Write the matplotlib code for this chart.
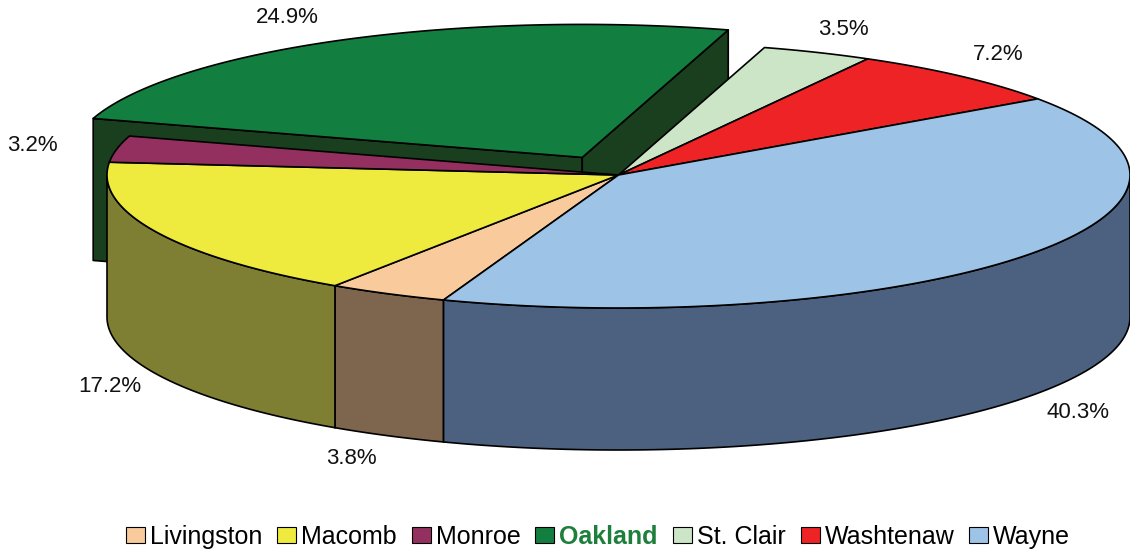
import numpy as np
import matplotlib
matplotlib.use("Agg")
import matplotlib.pyplot as plt
from matplotlib.patches import Polygon, Patch

plt.rcParams["font.family"] = ["Liberation Sans", "DejaVu Sans"]

# data
counties = ["Livingston", "Macomb", "Monroe", "Oakland", "St. Clair", "Washtenaw", "Wayne"]
shares = [3.8, 17.2, 3.2, 24.9, 3.5, 7.2, 40.3]
exploded = ["Oakland"]
labels = [f"{v:.1f}%" for v in shares]

# styles
top_colors = ["#F9CA9B", "#EEEA3E", "#93305F", "#127E3F", "#CCE5C6", "#EE2326", "#9DC3E6"]
side_colors = ["#7D654E", "#7F7F33", "#4A1830", "#1A3F1E", "#667360", "#771113", "#4C6180"]
label_nudge = [(-13, 11), (0, 7), (-34, -1), (-29, -11), (6, -11), (2, -12), (13, 6)]

# geometry of the 3d pie, in pixels
CX, CY = 618.5, 175
RX, RY = 511.5, 133
DEPTH = 142
START = 250
EXPLODE = 0.15
LABEL_R = 1.1
EDGE = dict(edgecolor="black", linewidth=1.2, joinstyle="round")


def arc(cx, cy, t1, t2, n=120):
    t = np.radians(np.linspace(t1, t2, n))
    return np.column_stack([cx + RX * np.cos(t), cy - RY * np.sin(t)])


def slice_geometry():
    total = sum(shares)
    out = []
    a = START
    for name, v in zip(counties, shares):
        span = 360 * v / total
        a_start, a_end = a, a - span
        mid = np.radians((a_start + a_end) / 2)
        cx, cy = CX, CY
        if name in exploded:
            cx += EXPLODE * RX * np.cos(mid)
            cy -= EXPLODE * RY * np.sin(mid)
        out.append((a_start, a_end, cx, cy))
        a = a_end
    return out


def draw_radial(ax, i, geo):
    a_start, a_end, cx, cy = geo
    down = np.array([0, DEPTH])
    c = np.array([cx, cy])
    # only the cut faces turned towards the viewer
    for ang, visible in ((a_start, np.cos(np.radians(a_start)) < 0),
                         (a_end, np.cos(np.radians(a_end)) > 0)):
        if not visible:
            continue
        p = arc(cx, cy, ang, ang, 1)[0]
        ax.add_patch(Polygon([c, p, p + down, c + down], facecolor=side_colors[i], **EDGE))


def draw_outer(ax, i, geo):
    a_start, a_end, cx, cy = geo
    down = np.array([0, DEPTH])
    # outer wall on the front half
    for k in (-360, 0, 360):
        lo, hi = max(a_end, 180 + k), min(a_start, 360 + k)
        if lo >= hi:
            continue
        upper = arc(cx, cy, hi, lo)
        lower = arc(cx, cy, lo, hi) + down
        ax.add_patch(Polygon(np.vstack([upper, lower]), facecolor=side_colors[i], **EDGE))


def draw_top(ax, i, geo):
    a_start, a_end, cx, cy = geo
    pts = np.vstack([[cx, cy], arc(cx, cy, a_start, a_end)])
    ax.add_patch(Polygon(pts, facecolor=top_colors[i], **EDGE))


def draw_group(ax, idx, geos):
    for i in idx:
        draw_radial(ax, i, geos[i])
    for i in idx:
        draw_outer(ax, i, geos[i])
    for i in idx:
        draw_top(ax, i, geos[i])


def main():
    fig = plt.figure(figsize=(11.3, 5.52), dpi=100)
    ax = fig.add_axes([0, 0, 1, 1])
    ax.set_xlim(0, 1130)
    ax.set_ylim(552, 0)
    ax.axis("off")

    geos = slice_geometry()
    back = [i for i, n in enumerate(counties) if n in exploded]
    front = [i for i, n in enumerate(counties) if n not in exploded]
    draw_group(ax, back, geos)
    draw_group(ax, front, geos)

    # percentage labels
    for i, (a_start, a_end, cx, cy) in enumerate(geos):
        m = np.radians((a_start + a_end) / 2)
        x = cx + RX * LABEL_R * np.cos(m)
        y = cy - RY * LABEL_R * np.sin(m)
        if np.sin(m) < 0:
            y += DEPTH
        dx, dy = label_nudge[i]
        ax.text(x + dx, y + dy, labels[i], ha="center", va="center",
                fontsize=16, color="#111111")

    handles = [Patch(facecolor=c, edgecolor="black", linewidth=0.8) for c in top_colors]
    leg = fig.legend(handles, counties, loc="center", ncol=7,
                     bbox_to_anchor=(598 / 1130, 1 - 537 / 552),
                     frameon=False, fontsize=18, handlelength=0.76, handleheight=0.64,
                     handletextpad=0.2, columnspacing=0.6, borderaxespad=0)
    for t in leg.get_texts():
        if t.get_text() in exploded:
            t.set_color("#1E7F3C")
            t.set_fontweight("bold")

    fig.savefig("out.png", dpi=100)


if __name__ == "__main__":
    main()
